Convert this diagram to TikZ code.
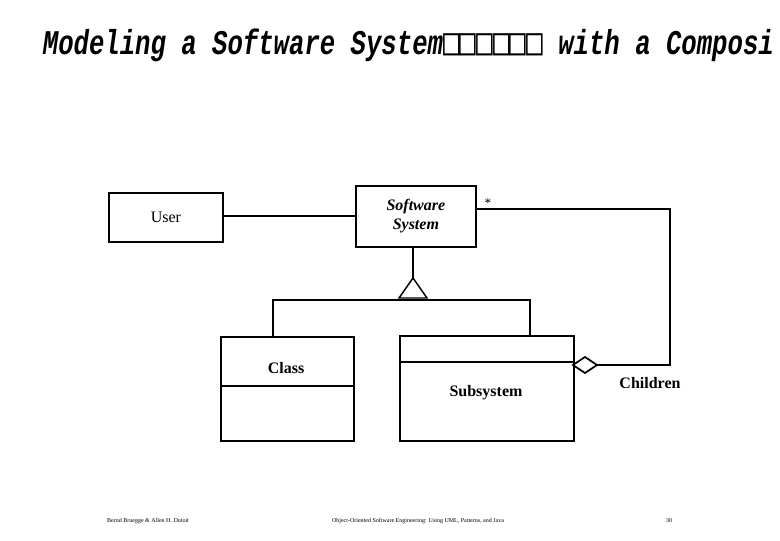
\documentclass[tikz,border=0pt]{standalone}
\usepackage{fontspec}
\setmainfont{Liberation Serif}
\newfontfamily\titlefont{Liberation Mono}
\newfontfamily\tofufont{DejaVu Sans Mono}
\begin{document}
\begin{tikzpicture}[x=0.75pt,y=-0.75pt,line width=1.3pt,
  box/.style={draw,line width=1.3pt,inner sep=0pt,anchor=north west},
  lbl/.style={font=\bfseries\fontsize{12}{14}\selectfont},
  foot/.style={font=\fontsize{4.5}{5}\selectfont}]
\useasboundingbox (0,0) rectangle (780,540);
\begin{scope}
\clip (0,0) rectangle (780,540);
\node[anchor=west,inner sep=0pt] (title) at (42,45) {\scalebox{0.74}[1]{\fontsize{26}{28}\selectfont\bfseries\itshape\titlefont Modeling a Software System{\tofufont\mdseries\upshape\fontsize{28}{28}\selectfont □□□□□□} with a Composi}};
\end{scope}
\node[box,minimum width=114*0.75pt,minimum height=49*0.75pt] (user) at (108,192) {};
\node[lbl,font=\fontsize{12}{14}\selectfont] at (user.center) {User};
\node[box,minimum width=120*0.75pt,minimum height=61*0.75pt] (ss) at (355,185) {};
\node[lbl,font=\bfseries\itshape\fontsize{12}{14}\selectfont,align=center] at (ss.center) {Software\\System};
\node[font=\fontsize{10}{12}\selectfont] (star) at (488,203) {*};
\node[box,minimum width=133*0.75pt,minimum height=104*0.75pt] (cls) at (220,336) {};
\draw (220,386) -- (353,386);
\node[lbl] (clsl) at (286,368) {Class};
\node[box,minimum width=174*0.75pt,minimum height=105*0.75pt] (sub) at (399,335) {};
\draw (399,362) -- (573,362);
\node[lbl] (subl) at (486,393) {Subsystem};
\node[lbl] (ch) at (650,383) {Children};
\coordinate (ssr) at (475,209);
\coordinate (apex) at (413,278);
\draw (user.east |- 0,216) -- (ss.west |- 0,216);
\draw (ss.south -| apex) -- (apex);
\draw[line width=1.1pt] (apex) -- (427,298) -- (399,298) -- cycle;
\draw (273,338) -- (273,300) -- (530,300) -- (530,335);
\draw (573,365) -- (585,357) -- (597,365) -- (585,373) -- cycle;
\draw (ssr) -- (670,209) -- (670,365) -- (597,365);
\node[foot] (f1) at (148,521) {Bernd Bruegge \& Allen H. Dutoit};
\node[foot] (f2) at (418,521) {Object-Oriented Software Engineering: Using UML, Patterns, and Java};
\node[foot] (f3) at (669,521) {30};
\end{tikzpicture}
\end{document}
